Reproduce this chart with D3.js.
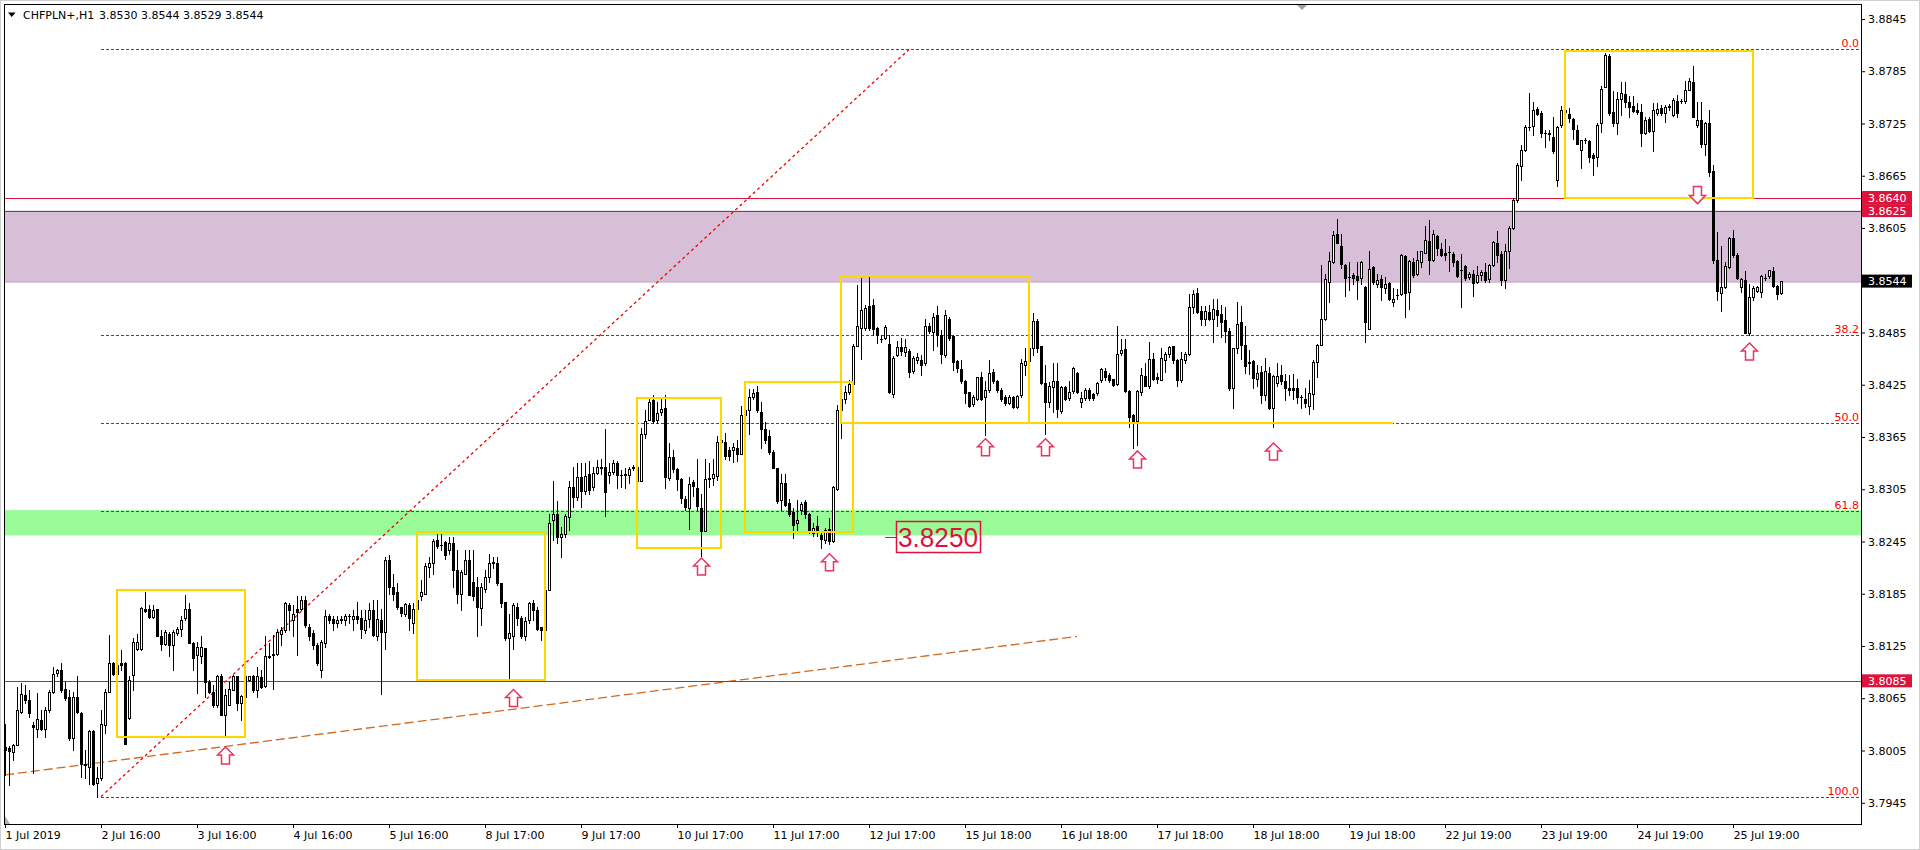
<!DOCTYPE html>
<html><head><meta charset="utf-8">
<script src="https://cdn.jsdelivr.net/npm/d3@7"></script>
<style>
html,body{margin:0;padding:0;background:#fff;overflow:hidden}
svg{display:block}
</style></head><body>
<svg id="c" width="1920" height="850"></svg>
<script>
// ---------- DATA (CHFPLN+, H1) ----------
const opens=[
3.8009,3.8008,3.8003,3.8011,3.8049,3.8069,3.8063,3.8034,3.8030,3.8040,
3.8030,3.8051,3.8072,3.8094,3.8097,3.8076,3.8067,3.8019,3.8067,3.8048,
3.7990,3.7986,3.8027,3.7968,3.7973,3.8034,3.8072,3.8105,3.8093,3.8105,
3.8105,3.8042,3.8092,3.8121,3.8121,3.8168,3.8167,3.8158,3.8167,3.8136,
3.8127,3.8139,3.8126,3.8140,3.8145,3.8157,3.8167,3.8129,3.8115,3.8114,
3.8123,3.8084,3.8072,3.8057,3.8090,3.8046,3.8057,3.8075,3.8090,3.8060,
3.8067,3.8086,3.8090,3.8074,3.8089,3.8079,3.8112,3.8116,3.8116,3.8139,
3.8143,3.8172,3.8155,3.8167,3.8167,3.8178,3.8147,3.8140,3.8126,3.8097,
3.8128,3.8160,3.8156,3.8151,3.8155,3.8155,3.8159,3.8156,3.8159,3.8157,
3.8143,3.8156,3.8166,3.8136,3.8155,3.8141,3.8224,3.8193,3.8187,3.8170,
3.8162,3.8172,3.8151,3.8167,3.8182,3.8185,3.8216,3.8220,3.8247,3.8241,
3.8244,3.8235,3.8243,3.8212,3.8185,3.8208,3.8224,3.8199,3.8193,3.8169,
3.8191,3.8204,3.8220,3.8220,3.8197,3.8176,3.8134,3.8136,3.8170,3.8157,
3.8136,3.8155,3.8174,3.8166,3.8147,3.8143,3.8189,3.8270,3.8277,3.8250,
3.8254,3.8273,3.8308,3.8296,3.8319,3.8303,3.8323,3.8308,3.8324,3.8329,
3.8330,3.8321,3.8325,3.8335,3.8321,3.8321,3.8321,3.8329,3.8331,3.8315,
3.8369,3.8384,3.8407,3.8384,3.8394,3.8398,3.8318,3.8342,3.8328,3.8317,
3.8294,3.8284,3.8313,3.8306,3.8284,3.8257,3.8317,3.8318,3.8320,3.8359,
3.8359,3.8350,3.8350,3.8352,3.8345,3.8390,3.8396,3.8411,3.8417,3.8394,
3.8374,3.8366,3.8348,3.8329,3.8293,3.8312,3.8289,3.8279,3.8266,3.8281,
3.8290,3.8276,3.8255,3.8263,3.8253,3.8247,3.8259,3.8245,3.8305,3.8396,
3.8409,3.8417,3.8426,3.8470,3.8490,3.8490,3.8515,3.8517,3.8490,3.8477,
3.8479,3.8472,3.8414,3.8459,3.8468,3.8463,3.8464,3.8441,3.8453,3.8453,
3.8450,3.8492,3.8486,3.8505,3.8482,3.8459,3.8500,3.8481,3.8452,3.8443,
3.8429,3.8417,3.8403,3.8409,3.8434,3.8411,3.8419,3.8440,3.8429,3.8419,
3.8411,3.8404,3.8411,3.8399,3.8413,3.8448,3.8452,3.8467,3.8498,3.8469,
3.8427,3.8405,3.8422,3.8429,3.8395,3.8422,3.8410,3.8418,3.8439,3.8405,
3.8410,3.8419,3.8414,3.8415,3.8430,3.8441,3.8436,3.8432,3.8426,3.8461,
3.8466,3.8418,3.8390,3.8383,3.8417,3.8435,3.8423,3.8454,3.8434,3.8431,
3.8453,3.8460,3.8469,3.8453,3.8430,3.8453,3.8460,3.8514,3.8530,3.8510,
3.8500,3.8509,3.8500,3.8511,3.8506,3.8499,3.8487,3.8421,3.8467,3.8497,
3.8471,3.8450,3.8452,3.8432,3.8440,3.8413,3.8438,3.8398,3.8427,3.8436,
3.8429,3.8421,3.8421,3.8421,3.8411,3.8409,3.8401,3.8414,3.8451,3.8471,
3.8501,3.8543,3.8566,3.8598,3.8584,3.8563,3.8549,3.8551,3.8550,3.8547,
3.8537,3.8489,3.8560,3.8541,3.8546,3.8536,3.8542,3.8520,3.8528,3.8529,
3.8573,3.8532,3.8566,3.8552,3.8566,3.8576,3.8590,3.8568,3.8596,3.8581,
3.8576,3.8577,3.8575,3.8567,3.8557,3.8561,3.8549,3.8552,3.8543,3.8551,
3.8554,3.8546,3.8563,3.8588,3.8575,3.8545,3.8578,3.8605,3.8637,3.8676,
3.8695,3.8721,3.8722,3.8742,3.8737,3.8714,3.8714,3.8710,3.8660,3.8723,
3.8741,3.8736,3.8730,3.8718,3.8695,3.8706,3.8705,3.8689,3.8687,3.8725,
3.8767,3.8803,3.8738,3.8726,3.8753,3.8759,3.8750,3.8745,3.8740,3.8738,
3.8714,3.8730,3.8716,3.8737,3.8743,3.8737,3.8744,3.8735,3.8751,3.8751,
3.8751,3.8764,3.8773,3.8723,3.8729,3.8702,3.8725,3.8670,3.8568,3.8530,
3.8537,3.8560,3.8594,3.8574,3.8537,3.8545,3.8484,3.8526,3.8533,3.8532,
3.8548,3.8550,3.8556,3.8538,3.8530];
const highs=[
3.8036,3.8010,3.8013,3.8078,3.8082,3.8080,3.8074,3.8038,3.8071,3.8051,
3.8055,3.8074,3.8101,3.8099,3.8105,3.8084,3.8074,3.8072,3.8090,3.8049,
3.8005,3.8028,3.8028,3.7986,3.8051,3.8076,3.8138,3.8107,3.8107,3.8120,
3.8107,3.8090,3.8134,3.8139,3.8170,3.8187,3.8172,3.8172,3.8168,3.8143,
3.8143,3.8141,3.8143,3.8147,3.8159,3.8183,3.8174,3.8130,3.8130,3.8136,
3.8123,3.8086,3.8080,3.8092,3.8093,3.8076,3.8084,3.8092,3.8091,3.8069,
3.8091,3.8091,3.8092,3.8101,3.8097,3.8136,3.8128,3.8138,3.8145,3.8147,
3.8176,3.8174,3.8172,3.8182,3.8182,3.8182,3.8150,3.8143,3.8128,3.8132,
3.8166,3.8162,3.8159,3.8159,3.8159,3.8162,3.8162,3.8166,3.8176,3.8166,
3.8166,3.8174,3.8178,3.8178,3.8168,3.8227,3.8229,3.8208,3.8197,3.8170,
3.8174,3.8174,3.8174,3.8182,3.8201,3.8220,3.8227,3.8248,3.8254,3.8254,
3.8246,3.8250,3.8250,3.8235,3.8212,3.8235,3.8235,3.8235,3.8204,3.8197,
3.8212,3.8231,3.8227,3.8227,3.8197,3.8176,3.8162,3.8174,3.8174,3.8159,
3.8158,3.8176,3.8178,3.8170,3.8147,3.8189,3.8277,3.8315,3.8291,3.8262,
3.8277,3.8315,3.8331,3.8335,3.8335,3.8335,3.8337,3.8331,3.8339,3.8340,
3.8374,3.8335,3.8339,3.8337,3.8327,3.8329,3.8331,3.8333,3.8333,3.8375,
3.8396,3.8411,3.8413,3.8405,3.8411,3.8413,3.8358,3.8350,3.8329,3.8318,
3.8297,3.8319,3.8316,3.8340,3.8300,3.8340,3.8335,3.8340,3.8366,3.8370,
3.8370,3.8354,3.8358,3.8362,3.8401,3.8404,3.8420,3.8420,3.8424,3.8405,
3.8382,3.8373,3.8350,3.8329,3.8322,3.8322,3.8294,3.8283,3.8293,3.8290,
3.8293,3.8278,3.8266,3.8274,3.8255,3.8261,3.8272,3.8309,3.8402,3.8427,
3.8424,3.8430,3.8472,3.8540,3.8547,3.8517,3.8549,3.8523,3.8491,3.8482,
3.8494,3.8482,3.8458,3.8475,3.8479,3.8477,3.8466,3.8458,3.8461,3.8459,
3.8501,3.8496,3.8507,3.8515,3.8488,3.8511,3.8503,3.8482,3.8453,3.8453,
3.8430,3.8417,3.8413,3.8434,3.8440,3.8429,3.8453,3.8443,3.8430,3.8421,
3.8413,3.8413,3.8412,3.8413,3.8454,3.8467,3.8470,3.8507,3.8500,3.8469,
3.8448,3.8428,3.8450,3.8450,3.8423,3.8423,3.8429,3.8445,3.8440,3.8417,
3.8421,3.8421,3.8415,3.8428,3.8444,3.8444,3.8438,3.8432,3.8492,3.8478,
3.8478,3.8419,3.8391,3.8419,3.8444,3.8450,3.8474,3.8461,3.8438,3.8467,
3.8463,3.8469,3.8470,3.8455,3.8463,3.8463,3.8529,3.8534,3.8536,3.8515,
3.8515,3.8517,3.8524,3.8524,3.8517,3.8514,3.8490,3.8467,3.8520,3.8515,
3.8492,3.8465,3.8453,3.8448,3.8446,3.8456,3.8445,3.8436,3.8450,3.8448,
3.8437,3.8436,3.8437,3.8432,3.8413,3.8421,3.8430,3.8453,3.8472,3.8562,
3.8552,3.8577,3.8602,3.8615,3.8598,3.8564,3.8566,3.8553,3.8566,3.8567,
3.8538,3.8578,3.8561,3.8552,3.8551,3.8549,3.8543,3.8536,3.8535,3.8575,
3.8574,3.8568,3.8570,3.8578,3.8579,3.8607,3.8614,3.8603,3.8597,3.8588,
3.8592,3.8584,3.8577,3.8568,3.8575,3.8562,3.8554,3.8557,3.8561,3.8557,
3.8565,3.8564,3.8590,3.8601,3.8578,3.8587,3.8607,3.8639,3.8680,3.8700,
3.8723,3.8760,3.8750,3.8744,3.8739,3.8718,3.8717,3.8732,3.8722,3.8745,
3.8748,3.8743,3.8731,3.8723,3.8706,3.8708,3.8706,3.8691,3.8725,3.8768,
3.8806,3.8805,3.8762,3.8761,3.8773,3.8773,3.8756,3.8756,3.8748,3.8747,
3.8732,3.8732,3.8749,3.8748,3.8746,3.8746,3.8747,3.8754,3.8758,3.8753,
3.8774,3.8777,3.8791,3.8750,3.8750,3.8727,3.8741,3.8677,3.8600,3.8584,
3.8566,3.8595,3.8603,3.8576,3.8548,3.8556,3.8541,3.8538,3.8538,3.8551,
3.8552,3.8557,3.8560,3.8539,3.8544];
const lows=[
3.7977,3.7965,3.7994,3.8011,3.8048,3.8059,3.8044,3.7979,3.8021,3.8029,
3.8021,3.8049,3.8071,3.8090,3.8072,3.8063,3.8017,3.8005,3.8048,3.7975,
3.7973,3.7967,3.7965,3.7952,3.7971,3.8025,3.8072,3.8092,3.8090,3.8097,
3.8012,3.8041,3.8074,3.8120,3.8120,3.8164,3.8157,3.8157,3.8136,3.8120,
3.8126,3.8113,3.8097,3.8138,3.8136,3.8155,3.8128,3.8097,3.8071,3.8105,
3.8067,3.8071,3.8055,3.8055,3.8046,3.8021,3.8057,3.8074,3.8051,3.8040,
3.8067,3.8085,3.8072,3.8067,3.8077,3.8078,3.8111,3.8076,3.8115,3.8126,
3.8141,3.8143,3.8136,3.8115,3.8166,3.8147,3.8132,3.8122,3.8103,3.8089,
3.8124,3.8151,3.8143,3.8147,3.8151,3.8149,3.8151,3.8143,3.8151,3.8134,
3.8140,3.8147,3.8136,3.8132,3.8070,3.8122,3.8185,3.8178,3.8168,3.8159,
3.8159,3.8143,3.8140,3.8166,3.8178,3.8185,3.8204,3.8208,3.8237,3.8235,
3.8225,3.8231,3.8193,3.8174,3.8166,3.8208,3.8183,3.8178,3.8136,3.8149,
3.8187,3.8199,3.8214,3.8195,3.8170,3.8132,3.8086,3.8122,3.8149,3.8134,
3.8132,3.8151,3.8155,3.8143,3.8132,3.8140,3.8189,3.8247,3.8243,3.8227,
3.8250,3.8258,3.8285,3.8293,3.8285,3.8300,3.8300,3.8304,3.8323,3.8322,
3.8274,3.8312,3.8323,3.8306,3.8308,3.8306,3.8312,3.8327,3.8310,3.8314,
3.8364,3.8384,3.8381,3.8381,3.8390,3.8306,3.8316,3.8325,3.8304,3.8289,
3.8281,3.8259,3.8297,3.8281,3.8228,3.8257,3.8308,3.8310,3.8316,3.8352,
3.8340,3.8339,3.8336,3.8337,3.8345,3.8372,3.8369,3.8409,3.8394,3.8352,
3.8358,3.8346,3.8329,3.8289,3.8281,3.8286,3.8274,3.8249,3.8256,3.8277,
3.8272,3.8255,3.8251,3.8251,3.8238,3.8243,3.8242,3.8244,3.8304,3.8364,
3.8404,3.8414,3.8424,3.8469,3.8454,3.8488,3.8488,3.8482,3.8473,3.8474,
3.8477,3.8415,3.8411,3.8458,3.8459,3.8458,3.8434,3.8438,3.8450,3.8436,
3.8448,3.8484,3.8465,3.8470,3.8450,3.8457,3.8476,3.8442,3.8440,3.8427,
3.8404,3.8400,3.8401,3.8407,3.8407,3.8367,3.8417,3.8427,3.8417,3.8406,
3.8402,3.8403,3.8398,3.8398,3.8411,3.8436,3.8445,3.8459,3.8463,3.8426,
3.8369,3.8400,3.8394,3.8388,3.8392,3.8407,3.8407,3.8416,3.8415,3.8400,
3.8408,3.8408,3.8408,3.8413,3.8428,3.8431,3.8428,3.8423,3.8425,3.8459,
3.8417,3.8377,3.8352,3.8356,3.8413,3.8423,3.8421,3.8430,3.8427,3.8431,
3.8440,3.8457,3.8450,3.8423,3.8428,3.8450,3.8459,3.8507,3.8507,3.8494,
3.8494,3.8499,3.8474,3.8492,3.8480,3.8474,3.8419,3.8398,3.8462,3.8455,
3.8438,3.8437,3.8421,3.8424,3.8404,3.8408,3.8397,3.8376,3.8423,3.8426,
3.8407,3.8413,3.8409,3.8404,3.8398,3.8400,3.8391,3.8397,3.8434,3.8471,
3.8499,3.8520,3.8565,3.8588,3.8559,3.8527,3.8534,3.8541,3.8523,3.8541,
3.8474,3.8489,3.8541,3.8537,3.8522,3.8530,3.8522,3.8515,3.8523,3.8528,
3.8503,3.8512,3.8549,3.8551,3.8560,3.8576,3.8552,3.8567,3.8574,3.8573,
3.8568,3.8556,3.8561,3.8549,3.8514,3.8545,3.8546,3.8527,3.8542,3.8545,
3.8543,3.8543,3.8561,3.8566,3.8540,3.8536,3.8559,3.8604,3.8635,3.8660,
3.8693,3.8717,3.8712,3.8735,3.8710,3.8698,3.8706,3.8691,3.8653,3.8721,
3.8733,3.8727,3.8707,3.8702,3.8674,3.8703,3.8681,3.8666,3.8676,3.8715,
3.8767,3.8735,3.8722,3.8713,3.8735,3.8744,3.8733,3.8738,3.8736,3.8699,
3.8713,3.8715,3.8693,3.8735,3.8735,3.8727,3.8741,3.8734,3.8732,3.8748,
3.8748,3.8764,3.8732,3.8721,3.8698,3.8689,3.8665,3.8565,3.8522,3.8510,
3.8536,3.8559,3.8572,3.8546,3.8532,3.8484,3.8482,3.8522,3.8531,3.8526,
3.8545,3.8548,3.8537,3.8523,3.8529];
const closes=[
3.8005,3.8004,3.8011,3.8051,3.8070,3.8063,3.8048,3.8032,3.8041,3.8030,
3.8051,3.8072,3.8093,3.8098,3.8074,3.8065,3.8019,3.8067,3.8049,3.7990,
3.7988,3.8027,3.7967,3.7973,3.8035,3.8072,3.8105,3.8093,3.8103,3.8103,
3.8013,3.8086,3.8130,3.8130,3.8169,3.8165,3.8158,3.8166,3.8137,3.8127,
3.8141,3.8126,3.8141,3.8144,3.8155,3.8168,3.8128,3.8111,3.8124,3.8124,
3.8084,3.8072,3.8057,3.8090,3.8046,3.8069,3.8076,3.8090,3.8059,3.8068,
3.8090,3.8090,3.8074,3.8090,3.8078,3.8113,3.8114,3.8115,3.8141,3.8143,
3.8174,3.8166,3.8162,3.8164,3.8178,3.8149,3.8136,3.8126,3.8105,3.8130,
3.8159,3.8155,3.8151,3.8155,3.8156,3.8159,3.8159,3.8159,3.8156,3.8145,
3.8155,3.8166,3.8138,3.8156,3.8141,3.8224,3.8193,3.8185,3.8170,3.8163,
3.8173,3.8157,3.8167,3.8178,3.8187,3.8217,3.8220,3.8246,3.8240,3.8241,
3.8229,3.8243,3.8212,3.8185,3.8210,3.8224,3.8183,3.8182,3.8170,3.8193,
3.8204,3.8220,3.8221,3.8197,3.8174,3.8134,3.8140,3.8172,3.8157,3.8136,
3.8154,3.8174,3.8166,3.8145,3.8143,3.8189,3.8266,3.8277,3.8250,3.8254,
3.8274,3.8308,3.8296,3.8319,3.8303,3.8320,3.8304,3.8324,3.8330,3.8331,
3.8302,3.8325,3.8335,3.8321,3.8321,3.8322,3.8328,3.8331,3.8315,3.8368,
3.8383,3.8405,3.8383,3.8393,3.8397,3.8319,3.8342,3.8328,3.8317,3.8295,
3.8285,3.8311,3.8309,3.8286,3.8257,3.8317,3.8318,3.8322,3.8359,3.8362,
3.8343,3.8343,3.8353,3.8345,3.8390,3.8396,3.8411,3.8415,3.8396,3.8374,
3.8362,3.8348,3.8329,3.8291,3.8312,3.8287,3.8276,3.8264,3.8270,3.8288,
3.8276,3.8258,3.8261,3.8257,3.8248,3.8258,3.8245,3.8308,3.8396,3.8409,
3.8417,3.8426,3.8470,3.8492,3.8511,3.8513,3.8490,3.8489,3.8482,3.8477,
3.8491,3.8417,3.8456,3.8468,3.8464,3.8468,3.8440,3.8456,3.8457,3.8448,
3.8492,3.8487,3.8503,3.8482,3.8460,3.8505,3.8479,3.8451,3.8444,3.8429,
3.8415,3.8401,3.8411,3.8434,3.8409,3.8419,3.8439,3.8429,3.8419,3.8409,
3.8404,3.8411,3.8399,3.8412,3.8450,3.8452,3.8467,3.8498,3.8467,3.8427,
3.8405,3.8423,3.8429,3.8397,3.8422,3.8409,3.8417,3.8444,3.8417,3.8410,
3.8419,3.8410,3.8410,3.8427,3.8443,3.8434,3.8431,3.8425,3.8460,3.8465,
3.8418,3.8388,3.8383,3.8418,3.8436,3.8424,3.8455,3.8432,3.8432,3.8456,
3.8460,3.8468,3.8453,3.8430,3.8455,3.8460,3.8514,3.8529,3.8509,3.8500,
3.8510,3.8500,3.8512,3.8505,3.8497,3.8487,3.8421,3.8467,3.8495,3.8471,
3.8447,3.8451,3.8433,3.8438,3.8413,3.8441,3.8398,3.8435,3.8435,3.8429,
3.8421,3.8419,3.8419,3.8411,3.8411,3.8404,3.8415,3.8451,3.8471,3.8501,
3.8546,3.8567,3.8597,3.8588,3.8564,3.8548,3.8549,3.8547,3.8545,3.8566,
3.8497,3.8558,3.8543,3.8545,3.8537,3.8541,3.8524,3.8524,3.8528,3.8574,
3.8530,3.8567,3.8551,3.8568,3.8578,3.8591,3.8568,3.8598,3.8582,3.8574,
3.8574,3.8577,3.8566,3.8550,3.8557,3.8548,3.8552,3.8542,3.8551,3.8555,
3.8545,3.8563,3.8589,3.8574,3.8545,3.8579,3.8605,3.8637,3.8677,3.8695,
3.8721,3.8721,3.8741,3.8736,3.8714,3.8714,3.8713,3.8693,3.8721,3.8741,
3.8738,3.8731,3.8719,3.8702,3.8706,3.8706,3.8687,3.8685,3.8723,3.8765,
3.8804,3.8737,3.8726,3.8753,3.8760,3.8750,3.8744,3.8739,3.8738,3.8714,
3.8729,3.8716,3.8741,3.8742,3.8737,3.8744,3.8745,3.8752,3.8737,3.8751,
3.8763,3.8774,3.8733,3.8729,3.8702,3.8725,3.8669,3.8568,3.8533,3.8537,
3.8561,3.8593,3.8574,3.8547,3.8546,3.8484,3.8526,3.8536,3.8537,3.8550,
3.8548,3.8557,3.8538,3.8529,3.8544];

const timeLabels=["1 Jul 2019","2 Jul 16:00","3 Jul 16:00","4 Jul 16:00","5 Jul 16:00","8 Jul 17:00","9 Jul 17:00","10 Jul 17:00","11 Jul 17:00","12 Jul 17:00","15 Jul 18:00","16 Jul 18:00","17 Jul 18:00","18 Jul 18:00","19 Jul 18:00","22 Jul 19:00","23 Jul 19:00","24 Jul 19:00","25 Jul 19:00"];
const timeLabelBars=[0,24,48,72,96,120,144,168,192,216,240,264,288,312,336,360,384,408,432];
const priceTicks=[3.8845,3.8785,3.8725,3.8665,3.8605,3.8545,3.8485,3.8425,3.8365,3.8305,3.8245,3.8185,3.8125,3.8065,3.8005,3.7945];

const fibPrices=[3.8810,3.8482,3.8381,3.8280,3.7952];
const fibNames=["0.0","38.2","50.0","61.8","100.0"];
const fibStartBar=24, fibEndBar=226;

const hLinePrices=[3.8640,3.8625,3.8085];
const bidPrice=3.8544;
const purpleZone=[3.8625,3.8542];
const greenZone=[3.8281,3.8252];

const rectBarsFrom=[28,103,158,185,209,390];
const rectBarsTo=[60,135,179,212,256,437];
const rectTop=[3.8189,3.8256,3.8410,3.8428,3.8550,3.8808];
const rectBottom=[3.8020,3.8086,3.8238,3.8256,3.8381,3.8639];
const yellowLine={from:256,to:347,price:3.8381};

const trendFrom={bar:0,price:3.7977}, trendTo={bar:268,price:3.8136};

const upArrowBars=[55,127,174,206,245,260,283,317,436];
const upArrowPrices=[3.8009,3.8075,3.8226,3.8231,3.8363,3.8363,3.8349,3.8358,3.8473];
const downArrowBars=[423];
const downArrowPrices=[3.8633];

const priceLabel={bar:220,price:3.8250,text:"3.8250"};
const header=["CHFPLN+,H1","3.8530 3.8544 3.8529 3.8544"];

// ---------- DRAW ----------
const L=4,T=4,R=1861,B=824;
const FONT="DejaVu Sans, Verdana, sans-serif";
const svg=d3.select("#c");
const n=Math.min(opens.length,highs.length,lows.length,closes.length);
const x=d3.scaleLinear().domain([0,444]).range([5,1781]);
const y=d3.scaleLinear().domain([3.79206,3.88622]).range([B,T]);
const px=i=>Math.round(x(i));
const py=v=>Math.round(y(v));

svg.append("rect").attr("width",1920).attr("height",850).attr("fill","#fff");
svg.append("rect").attr("x",0.5).attr("y",0.5).attr("width",1919).attr("height",849)
  .attr("fill","none").attr("stroke","#d0d0d0").attr("stroke-width",1);

svg.append("defs").append("clipPath").attr("id","plot").append("rect")
  .attr("x",L+1).attr("y",T+1).attr("width",R-L-1).attr("height",B-T-1);
const plot=svg.append("g").attr("clip-path","url(#plot)");

// zones
plot.append("rect").attr("x",L).attr("width",R-L)
  .attr("y",y(purpleZone[0])).attr("height",y(purpleZone[1])-y(purpleZone[0])).attr("fill","#D8BFD8");
plot.append("rect").attr("x",L).attr("width",R-L)
  .attr("y",y(greenZone[0])).attr("height",y(greenZone[1])-y(greenZone[0])).attr("fill","#98FB98");

// bid line
plot.append("line").attr("x1",L).attr("x2",R).attr("y1",py(bidPrice)+0.5).attr("y2",py(bidPrice)+0.5)
  .attr("stroke","#c0c0c0").attr("stroke-width",1);

// fib levels
plot.selectAll("line.fib").data(fibPrices).join("line").attr("class","fib")
  .attr("x1",x(fibStartBar)).attr("x2",R).attr("y1",d=>py(d)+0.5).attr("y2",d=>py(d)+0.5)
  .attr("stroke","#ff0000").attr("stroke-width",1).attr("stroke-dasharray","3,2");
plot.append("line").attr("x1",x(fibStartBar)).attr("y1",y(fibPrices[4]))
  .attr("x2",x(fibEndBar)).attr("y2",y(fibPrices[0]))
  .attr("stroke","#ee0000").attr("stroke-width",1.3).attr("stroke-dasharray","3,3");
plot.selectAll("text.fib").data(fibPrices).join("text").attr("class","fib")
  .attr("x",R-2).attr("y",d=>py(d)-2).attr("text-anchor","end")
  .attr("font-family",FONT).attr("font-size",11).attr("fill","#ff0000").text((d,i)=>fibNames[i]);

// orange trend line
plot.append("line").attr("x1",x(trendFrom.bar)).attr("y1",y(trendFrom.price))
  .attr("x2",x(trendTo.bar)).attr("y2",y(trendTo.price))
  .attr("stroke","#D2691E").attr("stroke-width",1.3).attr("stroke-dasharray","9,4");

// crimson horizontal lines
plot.selectAll("line.h").data(hLinePrices).join("line").attr("class","h")
  .attr("x1",L).attr("x2",R).attr("y1",d=>py(d)+0.5).attr("y2",d=>py(d)+0.5)
  .attr("stroke","#DC143C").attr("stroke-width",1);

// candles
const bars=d3.range(n).map(i=>({i,o:opens[i],h:highs[i],l:lows[i],c:closes[i]}));
const gC=plot.append("g").attr("shape-rendering","crispEdges");
gC.selectAll("rect.w").data(bars).join("rect").attr("class","w")
  .attr("x",d=>px(d.i)).attr("y",d=>py(d.h)).attr("width",1)
  .attr("height",d=>Math.max(1,py(d.l)-py(d.h)+1)).attr("fill","#000");
gC.selectAll("rect.b").data(bars).join("rect").attr("class","b")
  .attr("x",d=>px(d.i)-1).attr("y",d=>py(Math.max(d.o,d.c))).attr("width",3)
  .attr("height",d=>Math.max(1,py(Math.min(d.o,d.c))-py(Math.max(d.o,d.c))+1)).attr("fill","#000");
gC.selectAll("rect.in").data(bars.filter(d=>d.c>d.o && py(d.o)-py(d.c)>=2)).join("rect").attr("class","in")
  .attr("x",d=>px(d.i)).attr("y",d=>py(d.c)+1).attr("width",1)
  .attr("height",d=>py(d.o)-py(d.c)-1).attr("fill","#fff");

// yellow rectangles
const rects=rectBarsFrom.map((b,k)=>({b0:b,b1:rectBarsTo[k],t:rectTop[k],bt:rectBottom[k]}));
plot.selectAll("rect.yr").data(rects).join("rect").attr("class","yr")
  .attr("x",d=>px(d.b0)).attr("y",d=>py(d.t)).attr("width",d=>px(d.b1)-px(d.b0))
  .attr("height",d=>py(d.bt)-py(d.t)).attr("fill","none").attr("stroke","#FFD700").attr("stroke-width",2);
plot.append("line").attr("x1",px(yellowLine.from)).attr("x2",px(yellowLine.to))
  .attr("y1",py(yellowLine.price)).attr("y2",py(yellowLine.price)).attr("stroke","#FFD700").attr("stroke-width",2);

// arrows
const upPath="M0,0 L8,8 L4,8 L4,17 L-4,17 L-4,8 L-8,8 Z";
const downPath="M0,0 L8,-8 L4,-8 L4,-17 L-4,-17 L-4,-8 L-8,-8 Z";
const ups=upArrowBars.map((b,k)=>({b,p:upArrowPrices[k]}));
plot.selectAll("path.ua").data(ups).join("path").attr("class","ua")
  .attr("transform",d=>`translate(${px(d.b)+0.5},${y(d.p)})`).attr("d",upPath)
  .attr("fill","#fff").attr("stroke","#E8335F").attr("stroke-width",1.5).attr("stroke-linejoin","miter");
const downs=downArrowBars.map((b,k)=>({b,p:downArrowPrices[k]}));
plot.selectAll("path.da").data(downs).join("path").attr("class","da")
  .attr("transform",d=>`translate(${px(d.b)+0.5},${y(d.p)})`).attr("d",downPath)
  .attr("fill","#fff").attr("stroke","#E8335F").attr("stroke-width",1.5);

// price label 3.8250
const lx=px(priceLabel.bar), ly=py(priceLabel.price);
plot.append("line").attr("x1",lx).attr("x2",lx+11).attr("y1",ly+0.5).attr("y2",ly+0.5)
  .attr("stroke","#DC143C").attr("stroke-width",1);
plot.append("rect").attr("x",lx+11.5).attr("y",ly-15.5).attr("width",84).attr("height",31)
  .attr("fill","none").attr("stroke","#DC143C").attr("stroke-width",1.5);
plot.append("text").attr("x",lx+13).attr("y",ly+10).attr("font-family","Liberation Sans, Arial, sans-serif")
  .attr("font-size",28).attr("fill","#DC143C").attr("textLength",80).attr("lengthAdjust","spacingAndGlyphs")
  .text(priceLabel.text);

// chart shift marker and corner marker
svg.append("path").attr("d","M1297,5 L1307,5 L1302,10 Z").attr("fill","#a0a0a0");
svg.append("path").attr("d","M5,824 L5,816 L10,824 Z").attr("fill","#b0b0b0");

// frame
svg.append("rect").attr("x",L+0.5).attr("y",T+0.5).attr("width",R-L).attr("height",B-T)
  .attr("fill","none").attr("stroke","#000").attr("stroke-width",1);

// y axis
const yAxis=d3.axisRight(y).tickValues(priceTicks).tickFormat(d3.format(".4f")).tickSize(4).tickPadding(3);
const gy=svg.append("g").attr("transform",`translate(${R},0)`).call(yAxis);
gy.select(".domain").remove();
gy.selectAll("line").attr("stroke","#000");
gy.selectAll("text").attr("font-family",FONT).attr("font-size",11).attr("fill","#000");

// x axis
const xAxis=d3.axisBottom(x).tickValues(timeLabelBars).tickFormat((d,i)=>timeLabels[i]).tickSize(4);
const gx=svg.append("g").attr("transform",`translate(0,${B})`).call(xAxis);
gx.select(".domain").remove();
gx.selectAll("line").attr("stroke","#000");
gx.selectAll("text").attr("text-anchor","start").attr("x",0).attr("y",15).attr("dy",null)
  .attr("font-family",FONT).attr("font-size",11).attr("fill","#000");

// right-axis value boxes
const boxes=[{p:3.8640,c:"#DC143C"},{p:3.8625,c:"#DC143C"},{p:bidPrice,c:"#000"},{p:3.8085,c:"#DC143C"}];
const gb=svg.append("g");
gb.selectAll("rect").data(boxes).join("rect")
  .attr("x",R+1).attr("y",d=>y(d.p)-6.5).attr("width",50).attr("height",13).attr("fill",d=>d.c);
gb.selectAll("text").data(boxes).join("text")
  .attr("x",R+7).attr("y",d=>y(d.p)+4).attr("font-family",FONT).attr("font-size",11)
  .attr("fill","#fff").text(d=>d3.format(".4f")(d.p));

// header
svg.append("path").attr("d","M8,12.5 L15.5,12.5 L11.75,17 Z").attr("fill","#000");
svg.append("text").attr("x",23).attr("y",18.5).attr("font-family",FONT).attr("font-size",11).attr("fill","#000").text(header[0]);
svg.append("text").attr("x",99).attr("y",18.5).attr("font-family",FONT).attr("font-size",11).attr("fill","#000").text(header[1]);
</script>
</body></html>
